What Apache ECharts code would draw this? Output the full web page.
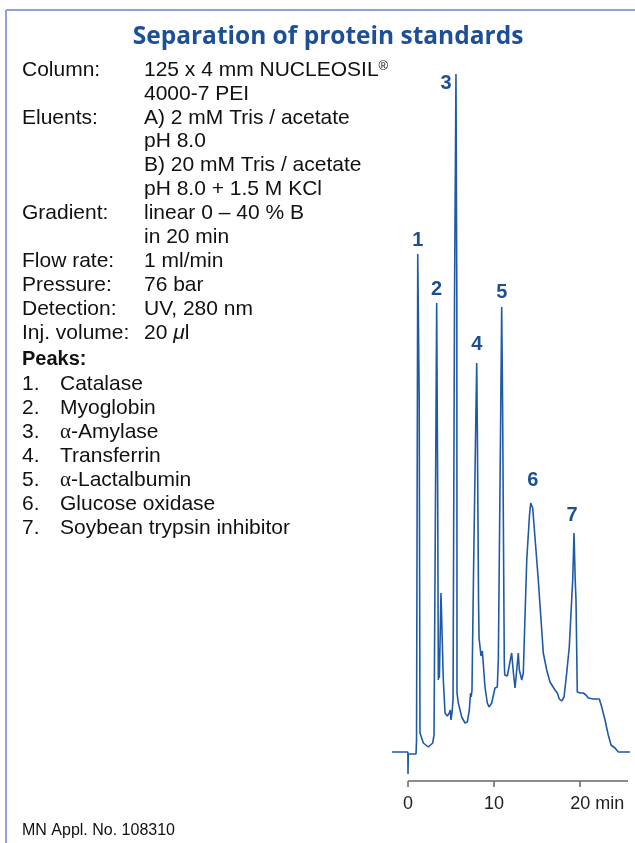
<html>
  <head>
    <meta charset="utf-8">
    <script src="https://cdn.jsdelivr.net/npm/echarts@6/dist/echarts.min.js"></script>
    <style>
      body { margin: 0; background: #fff; }
    </style>
  </head>
  <body>
    <div id="main" style="width:635px;height:843px;"></div>
    <script>
      // chromatogram trace: retention time (min) and detector signal (arb. units)
      var traceTime = [-1.86, -0.02, 0.00, 0.03, 0.93, 0.99, 1.13, 1.30, 1.39, 1.78, 2.36, 2.87, 3.02, 3.19, 3.33,
        3.45, 3.52, 3.58, 3.64, 3.83, 4.10, 4.30, 4.56, 4.80, 4.91, 4.99, 5.11, 5.23, 5.40, 5.57, 5.67, 5.69,
        5.84, 6.24, 6.62, 6.89, 7.12, 7.20, 7.27, 7.34, 7.43, 7.63, 7.86, 7.98, 8.05, 8.19, 8.25, 8.36, 8.48,
        8.63, 8.71, 8.94, 9.21, 9.41, 9.72, 10.10, 10.28, 10.37, 10.49, 10.78, 10.88, 10.98, 11.18, 11.23,
        11.53, 11.73, 12.04, 12.23, 12.43, 12.54, 12.81, 12.93, 13.21, 13.39, 13.47, 13.79, 14.11, 14.25,
        14.48, 14.63, 14.95, 15.13, 15.53, 15.71, 16.11, 16.49, 17.07, 17.34, 17.57, 17.85, 18.12, 18.43,
        18.73, 18.93, 19.13, 19.28, 19.42, 19.51, 19.66, 19.98, 20.36, 20.67, 20.94, 21.52, 22.22, 22.50,
        22.88, 23.26, 23.58, 24.04, 24.43, 25.98];
      var traceSignal = [0, 0, -22, -2, -2, 12, 498, 352, 19, 9, 5, 9, 17, 252, 449,
        252, 72, 104, 74, 159, 72, 39, 36, 39, 42, 32, 39, 52, 452, 678, 452, 59,
        49, 35, 29, 30, 42, 52, 59, 55, 62, 192, 325, 389, 325, 152, 114, 112, 96,
        101, 92, 65, 49, 45, 49, 64, 66, 65, 92, 352, 445, 352, 92, 77,
        76, 75, 99, 80, 64, 65, 99, 82, 72, 79, 102, 192, 237, 249,
        244, 243, 192, 172, 122, 99, 82, 70, 62, 59, 53, 51, 55, 79,
        105, 139, 172, 219, 172, 152, 60, 59, 59, 57, 54, 53, 53, 45,
        32, 17, 7, 4, 0, 0];

      // numbered peaks
      var peakNo = ['1', '2', '3', '4', '5', '6', '7'];
      var peakTime = [1.13, 3.33, 5.57, 7.98, 10.88, 14.25, 19.28];
      var peakHeight = [498, 449, 678, 389, 445, 249, 219];
      var peakNames = ['Catalase', 'Myoglobin', '{g|\u03b1}-Amylase', 'Transferrin',
        '{g|\u03b1}-Lactalbumin', 'Glucose oxidase', 'Soybean trypsin inhibitor'];

      // time axis: drawn line runs from 0 to axisEnd, ticks at xTicks
      var xTicks = [0, 10, 20];
      var axisEnd = 25.55;

      var paramLabels = ['Column:', '', 'Eluents:', '', '', '', 'Gradient:', '', 'Flow rate:',
        'Pressure:', 'Detection:', 'Inj. volume:'];
      var paramValues = ['125 x 4 mm NUCLEOSIL{r|\u00ae}', '4000-7 PEI', 'A) 2 mM Tris / acetate', 'pH 8.0',
        'B) 20 mM Tris / acetate', 'pH 8.0 + 1.5 M KCl', 'linear 0 \u2013 40 % B', 'in 20 min',
        '1 ml/min', '76 bar', 'UV, 280 nm', '20 {m|\u03bc}l'];

      var titleText = 'Separation of protein standards';
      var footText = 'MN Appl. No. 108310';

      var blue = '#1d4f96';
      var lineBlue = '#1f5aa6';
      var sans = 'Liberation Sans, Arial, Helvetica, sans-serif';
      var richBits = {
        g: { fontFamily: 'Liberation Serif, serif', fontSize: 21, fill: '#111' },
        m: { fontFamily: sans, fontStyle: 'italic', fontSize: 21, fill: '#111' },
        r: { fontFamily: sans, fontSize: 13, verticalAlign: 'top', fill: '#111' }
      };

      var graphic = [];
      // frame
      graphic.push({ type: 'line', shape: { x1: 6, y1: 10, x2: 635, y2: 10 }, style: { stroke: '#8fa3d8', lineWidth: 2 } });
      graphic.push({ type: 'line', shape: { x1: 6, y1: 10, x2: 6, y2: 843 }, style: { stroke: '#8fa3d8', lineWidth: 2 } });
      graphic.push({
        type: 'text', x: 328, y: 37,
        style: { text: titleText, fontFamily: 'Open Sans, sans-serif', fontWeight: 'bold', fontSize: 24.5,
          fill: blue, align: 'center', verticalAlign: 'middle' }
      });
      for (var i = 0; i < paramLabels.length; i++) {
        var y = 70 + i * 23.9;
        graphic.push({ type: 'text', x: 22, y: y,
          style: { text: paramLabels[i], fontFamily: sans, fontSize: 21, fill: '#111', verticalAlign: 'middle' } });
        graphic.push({ type: 'text', x: 144, y: y,
          style: { text: paramValues[i], fontFamily: sans, fontSize: 21, fill: '#111', verticalAlign: 'middle', rich: richBits } });
      }
      graphic.push({ type: 'text', x: 22, y: 359,
        style: { text: 'Peaks:', fontFamily: sans, fontWeight: 'bold', fontSize: 20, fill: '#111', verticalAlign: 'middle' } });
      for (var k = 0; k < peakNames.length; k++) {
        var yy = 384 + k * 24.1;
        graphic.push({ type: 'text', x: 22, y: yy,
          style: { text: peakNo[k] + '.', fontFamily: sans, fontSize: 21, fill: '#111', verticalAlign: 'middle' } });
        graphic.push({ type: 'text', x: 60, y: yy,
          style: { text: peakNames[k], fontFamily: sans, fontSize: 21, fill: '#111', verticalAlign: 'middle', rich: richBits } });
      }
      graphic.push({ type: 'text', x: 22, y: 831,
        style: { text: footText, fontFamily: sans, fontSize: 16, fill: '#111', verticalAlign: 'middle' } });

      var trace = traceTime.map(function (t, i) { return [t, traceSignal[i]]; });
      var labelOffsets = [[0, -14], [0, -14], [-10, 9], [0, -19], [0, -15], [2, -23], [-2, -18]];
      var peaks = peakTime.map(function (t, i) {
        return { value: [t, peakHeight[i]], label: { offset: labelOffsets[i] } };
      });

      var yMin = -29, yMax = 678;

      var myChart = echarts.init(document.getElementById('main'));
      var option = {
        animation: false,
        graphic: graphic,
        grid: { left: 392, right: 7, top: 74, bottom: 62 },
        xAxis: {
          type: 'value', min: traceTime[0], max: axisEnd,
          axisLine: { show: false, onZero: false },
          axisTick: { show: true, length: 6, customValues: xTicks, lineStyle: { color: '#666', width: 1.5 } },
          splitLine: { show: false },
          axisLabel: {
            customValues: xTicks, margin: 14, color: '#222', fontFamily: sans, fontSize: 18,
            formatter: function (v) {
              return v === 20 ? '{p|}{n|20}{n| min}' : '{n|' + v + '}';
            },
            rich: { p: { width: 34 }, n: { fontFamily: sans, fontSize: 18, color: '#222' } }
          }
        },
        yAxis: { type: 'value', min: yMin, max: yMax, show: false },
        series: [
          {
            type: 'line', data: trace, symbol: 'none',
            lineStyle: { color: lineBlue, width: 1.6 }
          },
          {
            type: 'scatter', data: peaks, symbolSize: 1, silent: true, clip: false,
            itemStyle: { color: 'rgba(0,0,0,0)' },
            label: {
              show: true, position: 'inside', color: blue, fontFamily: sans, fontWeight: 'bold', fontSize: 20,
              textBorderWidth: 0, opacity: 1,
              formatter: function (p) { return peakNo[p.dataIndex]; }
            },
            markLine: {
              silent: true, symbol: 'none', label: { show: false },
              lineStyle: { color: '#666', width: 1.5, type: 'solid' },
              data: [[{ coord: [xTicks[0], yMin] }, { coord: [axisEnd, yMin] }]]
            }
          }
        ]
      };
      myChart.setOption(option);
    </script>
  </body>
</html>
